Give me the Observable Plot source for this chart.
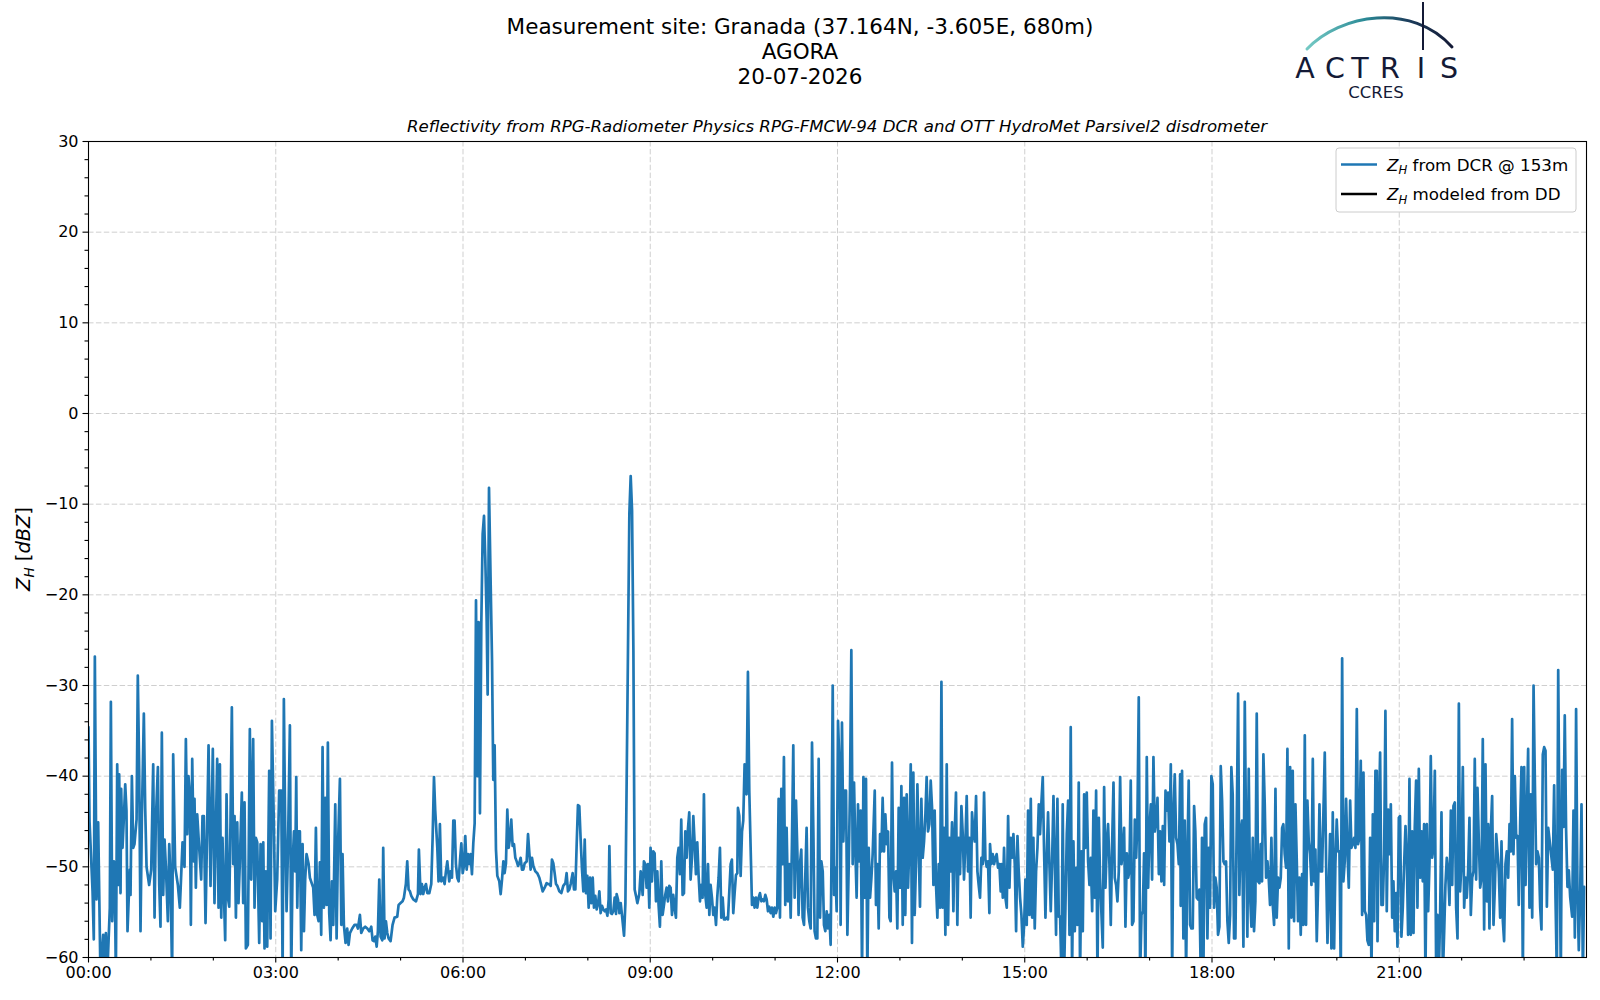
<!DOCTYPE html>
<html>
<head>
<meta charset="utf-8">
<script src="https://cdn.jsdelivr.net/npm/d3@7"></script>
<script src="https://cdn.jsdelivr.net/npm/@observablehq/plot@0.6"></script>
<style>
  html, body { margin: 0; padding: 0; background: #fff; }
  #fig { position: relative; width: 1600px; height: 1000px; background: #fff; overflow: hidden; }
  #chart { position: absolute; left: 0; top: 0; }
  #overlay { position: absolute; left: 0; top: 0; pointer-events: none; }
  text { font-family: "DejaVu Sans", sans-serif; }
</style>
</head>
<body>
<div id="fig">
  <div id="chart"></div>
  <svg id="overlay" width="1600" height="1000" viewBox="0 0 1600 1000"></svg>
</div>
<script>
// ---------------- DATA (minutes since 00:00 UTC, Z_H in dBZ) ----------------
const dateLabel = "20-07-2026";
const siteLabel = "Measurement site: Granada (37.164N, -3.605E, 680m)";
const networkLabel = "AGORA";
const subtitleLabel = "Reflectivity from RPG-Radiometer Physics RPG-FMCW-94 DCR and OTT HydroMet Parsivel2 disdrometer";
const legendLabels = ["from DCR @ 153m", "modeled from DD"];
const xTickLabels = ["00:00","03:00","06:00","09:00","12:00","15:00","18:00","21:00"];
const yTickValues = [-60,-50,-40,-30,-20,-10,0,10,20,30];

// 00:00 - 03:03
const zhDcr1 = [[0,-34.6],[1,-45],[3.9,-52.7],[5.1,-58],[6.1,-26.8],[7.7,-53.6],[9.3,-45.1],[11.5,-62],[14.1,-57.5],[15.4,-62],[16.7,-57.3],[18,-62],[20.5,-54.5],[21.5,-31.8],[22.8,-56],[24.4,-49.4],[25.3,-51.8],[26.3,-62],[27.6,-38.7],[28.8,-52],[29.5,-39.8],[30.8,-52.9],[31.4,-41.4],[32.7,-47.9],[34,-44.6],[35.3,-40.9],[36.5,-43.8],[37.5,-57.1],[39.7,-50.3],[40.4,-53.1],[41.7,-40],[43,-47.9],[44.2,-47.5],[46.2,-44.8],[47.4,-28.9],[48.7,-39.2],[50,-57.1],[51.3,-44.6],[53.2,-33.1],[54.5,-43.5],[55.8,-50],[58.3,-52],[60.3,-50.3],[62.2,-38.7],[63.5,-55.6],[64.7,-45],[66.7,-39],[68,-52],[69.2,-56.6],[70.5,-35.2],[71.8,-53.1],[73.1,-47],[74.4,-50],[76.3,-56],[77.6,-47.5],[78.8,-51.2],[80.4,-62],[81.4,-37.6],[83.3,-50],[85.9,-52],[87.8,-54.5],[90.4,-47.3],[92.3,-50],[93.6,-35.9],[94.9,-46.4],[96.1,-40],[97.4,-42],[98.4,-56.4],[99.7,-38.1],[101.3,-49.4],[101.9,-42.5],[103.2,-52.3],[104.5,-44.2],[106.4,-47.9],[108.3,-51.4],[109.6,-44.4],[110.9,-44.4],[112.5,-56.2],[115.4,-36.6],[117.3,-52.1],[119.5,-37],[121.1,-54],[123.7,-38.1],[125,-54.5],[126.3,-38.7],[127.6,-55.6],[128.8,-46.8],[130.1,-52.7],[131.4,-58.1],[132.7,-42],[134,-53.4],[135.3,-54.4],[136.5,-45],[137.8,-32.4],[139.1,-49.7],[140.4,-44.4],[141.7,-55.6],[143,-45.1],[144.2,-54],[145.5,-49.4],[147.4,-41.8],[148.7,-54],[150,-42.9],[151.3,-59],[153.2,-58.6],[155.1,-34.8],[156.4,-51.4],[158.3,-35.9],[159.6,-54.5],[160.9,-46.8],[162.2,-47.3],[164.1,-58.4],[165.4,-47.5],[167,-56],[168,-47.3],[169.2,-59],[170.5,-50.5],[171.8,-58.8],[173.7,-39.4],[175,-57.9],[176.3,-33.9],[178.2,-45.5],[179.5,-54.9],[181.4,-51.4],[183.3,-41.6]];
// 03:05 - 05:57
const zhDcr2 = [[185.3,-41.6],[186.6,-62],[187.8,-31.5],[189.1,-46],[190.4,-54.9],[191.7,-48.3],[193.6,-34.4],[194.9,-62],[196.2,-49.7],[197.5,-46.1],[198.7,-50.5],[199.7,-40.1],[200.7,-54.5],[201.9,-46.1],[203.2,-46.1],[204.5,-59.2],[205.8,-47.5],[207.1,-57.1],[208.3,-51.4],[209.6,-48.6],[211.6,-49.7],[212.8,-51.2],[216,-52.3],[217.3,-55.3],[218.6,-45.7],[219.9,-55.3],[221.2,-56],[222.4,-49.5],[223.7,-57.5],[225,-36.8],[226.3,-54.5],[227.6,-42.4],[228.9,-54.2],[230.1,-36.3],[231.4,-55.1],[232.7,-58.1],[234,-51.6],[235.3,-56.4],[237.2,-43.1],[238.5,-57.9],[239.8,-47.9],[241.7,-40.3],[243,-56.4],[244.2,-48.6],[245.5,-56.4],[247.1,-58.4],[248.7,-56.8],[250,-58.6],[251.3,-57.3],[253.5,-56.8],[255.8,-56.4],[257.7,-56.4],[259,-56.8],[260.9,-55.3],[262.2,-57.3],[264.1,-56.8],[266,-56.6],[268,-56.8],[269.9,-57.1],[271.8,-56.6],[273.1,-58.1],[274.4,-58.2],[275.7,-57.7],[277,-58.8],[278.2,-57.1],[279.5,-51.4],[280.8,-57.7],[282.4,-58.1],[283.3,-47.9],[284.6,-57.9],[285.9,-56],[287.2,-57.3],[288.5,-57.9],[290.4,-58.2],[292.3,-56.4],[294.2,-55.6],[296.8,-55.5],[298.1,-54.2],[300,-54],[301.9,-53.8],[303.2,-53.4],[305.1,-51.9],[306.4,-49.4],[307.7,-52.5],[309,-52.7],[310.3,-53.2],[312.2,-53.6],[314.8,-53.8],[316.7,-53],[317.6,-48.1],[319.2,-53],[320.5,-51.9],[321.8,-53],[323.1,-52.3],[324.4,-51.9],[325.7,-52.9],[327.6,-52.9],[329.5,-51.9],[330.8,-46.8],[332.1,-40.1],[333.3,-43.8],[335.3,-47.9],[336.5,-51.6],[337.8,-45.3],[339.1,-51.6],[341,-51.2],[342.3,-51.9],[343.6,-50.5],[344.9,-49.4],[346.8,-51.6],[348.1,-50.5],[349.4,-51.2],[350.7,-44.9],[351.9,-44.9],[353.2,-49.7],[354.5,-51.2],[355.8,-51.6],[357.1,-49.3]];
// 05:58 - 08:51 (echo event and spike)
const zhDcr3 = [[358.4,-47.4],[359.7,-50.7],[360.9,-49.9],[362.2,-46.6],[363.5,-50.3],[364.8,-48.6],[366.1,-49.7],[367.3,-48.6],[368.6,-50.8],[369.9,-47.4],[371.2,-45.2],[372.5,-20.6],[373.8,-40],[375,-23],[376.3,-44.1],[377.6,-23.2],[378.9,-13.3],[380.2,-11.3],[381.4,-15.9],[382.7,-22.5],[383.7,-31],[385,-8.2],[386.6,-18.8],[387.9,-27.2],[389.1,-40.4],[390.4,-36.6],[391.7,-48.1],[393,-51],[394.9,-51.6],[396.2,-53],[397.5,-51.4],[398.8,-49.4],[400,-50.7],[401.3,-49.6],[402.6,-43.7],[403.9,-47.9],[405.2,-46.8],[406.4,-44.8],[407.7,-47.7],[409,-47.5],[410.3,-49],[411.6,-49.4],[412.9,-49.9],[414.1,-49.6],[415.4,-49],[416.7,-50.3],[418,-50.3],[419.3,-49.6],[421.2,-49.4],[422.5,-46.4],[423.8,-48.5],[425,-50.3],[426.3,-49],[427.6,-49.9],[429.5,-50.5],[431.4,-50.7],[433.4,-51.2],[434.7,-51.8],[436.6,-52.7],[438.5,-52.3],[440.4,-51.8],[441.7,-51.9],[443,-51.9],[444.3,-52.1],[445.5,-49.2],[446.8,-49.6],[448.1,-50.7],[449.4,-51.9],[450.7,-52.1],[452.6,-52.7],[454.5,-52.9],[456.4,-52.1],[458.4,-51.8],[459.6,-50.7],[460.9,-52.7],[462.2,-52.5],[463.5,-51.9],[465.4,-50.7],[466.7,-52.5],[468,-52.5],[469.3,-47.4],[470.5,-43.2],[471.8,-43.3],[473.1,-47],[474.4,-50.3],[475.7,-52.7],[477,-47],[478.2,-52.9],[479.5,-51],[480.8,-54.5],[482.1,-51.2],[483.4,-54],[484.7,-51.2],[485.9,-54.5],[487.2,-53.2],[488.5,-54.7],[489.8,-54.1],[491.1,-52.7],[492.3,-55.1],[493.6,-54.3],[494.9,-54.7],[496.2,-54.9],[497.5,-54.7],[498.8,-55.4],[500,-53.6],[500.7,-47.7],[502,-55.1],[503.2,-55.2],[504.5,-54.9],[505.8,-53.4],[507.1,-55.2],[507.7,-53],[509,-53.6],[510.3,-55.1],[511.6,-54],[512.9,-55.4],[514.8,-57.6],[516.1,-54],[517.3,-40.8],[518.6,-26.1],[519.9,-11.1],[521.2,-6.9],[522.5,-10.7],[523.8,-26.1],[525,-52.5],[526.3,-53.2],[527.6,-54],[529.5,-53],[530.8,-50.5]];
// 08:51 - 11:43
const zhDcr4 = [[531.4,-51.2],[532.7,-53.1],[533.9,-49.4],[535.2,-49.7],[536.5,-52.3],[537.8,-49.7],[539.1,-54.5],[540.3,-47.9],[541.6,-51.6],[542.9,-48.3],[544.2,-48.5],[545.5,-53.8],[546.8,-50.5],[548,-54.2],[549.3,-56.6],[550.6,-49.4],[551.9,-55.3],[553.2,-54.2],[554.4,-53.1],[555.7,-52.3],[557,-53.8],[558.3,-52.1],[559.6,-52.3],[560.9,-55.3],[562.1,-53.1],[563.4,-54.5],[564.7,-55.6],[566,-49],[567.3,-47.9],[568.6,-50.8],[569.8,-44.8],[571.1,-53.1],[572.4,-52.9],[573.7,-46.1],[575,-49],[576.2,-45.9],[577.5,-44],[578.8,-51.4],[580.1,-49],[581.4,-44.4],[582.7,-47.5],[583.9,-50.8],[585.2,-47.3],[586.5,-51],[587.8,-53.8],[589.1,-52],[590.3,-53.4],[591.6,-42],[592.9,-53.1],[594.2,-54.5],[595.5,-49.7],[596.8,-55.3],[598,-52],[599.3,-53.4],[600.6,-55.3],[601.9,-54.5],[603.2,-56.4],[604.4,-53.4],[605.7,-51.2],[607,-47.9],[608.3,-55.6],[609.6,-53.4],[610.9,-55.8],[612.1,-55.8],[613.4,-55.6],[614.7,-55.8],[616,-52.7],[617.3,-49.7],[618.5,-49.2],[619.8,-55.1],[621.1,-52.9],[622.4,-50.9],[623.7,-50.7],[624.3,-43.5],[625.6,-44.4],[626.9,-51],[628.2,-46.1],[629.4,-44.9],[630.7,-38.7],[632,-41.8],[632.6,-42],[633.9,-28.5],[635.2,-41.6],[636.5,-47.9],[637.8,-54.2],[639.1,-53.4],[640.3,-54.5],[641.6,-53.4],[642.9,-54.5],[644.2,-53.4],[645.5,-52.9],[646.8,-53.8],[648,-53.6],[649.3,-53.8],[650.6,-53.1],[651.9,-53.6],[653.2,-54.9],[654.4,-54.4],[655.7,-55.1],[657,-54.5],[658.3,-55.5],[659.6,-54.5],[660.9,-55.1],[662.1,-54.5],[663.4,-42.5],[664.7,-55.6],[666,-41.4],[667.3,-49.7],[668.5,-37.9],[669.8,-54.2],[671.1,-45.7],[672.4,-53.8],[673.7,-49.7],[675,-55.6],[676.2,-47.5],[677.5,-36.6],[678.8,-53.4],[680.1,-42.7],[681.4,-48.3],[682.6,-55.3],[683.9,-49.7],[685.2,-48.1],[686.5,-55.6],[687.8,-56.4],[689.1,-50.8],[690.3,-45.7],[691.6,-54.5],[692.9,-56],[694.2,-56.8],[695.5,-36.3],[696.8,-46.1],[698,-57.1],[699.3,-57.9],[700.6,-57.9],[701.9,-38.1],[703.2,-55.6]];
// 11:44 - 14:37
const zhDcr5 = [[704.5,-49.4],[705.8,-50.5],[707,-56.4],[708.3,-57.1],[709.6,-54.9],[710.9,-56.8],[712.2,-55.3],[713.4,-58.6],[714.1,-50.5],[715.4,-30],[716.7,-53.1],[717.9,-50.1],[719.2,-54.9],[720.5,-33.9],[722.4,-40.5],[723,-56.4],[724.3,-34.1],[725.6,-47.2],[726.9,-41.6],[728.2,-41.6],[729.5,-57.5],[730.8,-49.7],[732,-41.6],[733.3,-26.1],[734.6,-49.7],[735.9,-40.7],[737.2,-48.3],[738.4,-53.4],[739.7,-43.1],[741,-49.4],[742.3,-43.8],[743.6,-62],[744.9,-40.1],[746.1,-53.4],[747.4,-40.3],[748.7,-62],[750,-47.9],[751.3,-53.4],[752.6,-51.2],[753.8,-48.6],[755.8,-41.6],[757,-54.2],[758.3,-49.7],[759.6,-56.8],[760.9,-46.4],[762.2,-48.3],[763.4,-42.4],[764.7,-48.3],[766,-44.2],[767.3,-47.5],[768.6,-46.1],[769.9,-55.6],[771.1,-56],[772.4,-38.5],[773.7,-50.8],[775,-52.7],[776.3,-50.5],[777.5,-56.8],[778.8,-43.5],[780.1,-52.3],[781.4,-41.1],[782.7,-56.4],[784,-42.4],[785.2,-55.3],[786.5,-42],[787.8,-52.3],[789.1,-47.5],[790.4,-38.7],[791.6,-58.4],[792.9,-39.6],[794.2,-55.3],[795.5,-49.4],[796.8,-40.9],[798.1,-48.3],[799.3,-54.4],[800.6,-42.5],[801.9,-49],[803.2,-47.2],[804.5,-44.2],[805.7,-40.1],[807,-46.1],[808.3,-45.3],[809.6,-40.5],[810.9,-43.5],[812.2,-52],[813.4,-43.8],[814.7,-52],[816,-55.6],[817.3,-49.7],[818.6,-54.5],[819.9,-29.6],[821.1,-54.5],[822.4,-45.7],[823.7,-57.5],[825,-38.7],[826.3,-56.4],[827.5,-46.8],[828.8,-50.5],[830.1,-45.1],[831.4,-54.9],[832.7,-46.1],[833.9,-41.8],[835.2,-56.4],[836.5,-46.8],[837.8,-50.8],[839.1,-43.3],[840.4,-46.4],[841.6,-51.4],[842.9,-47.5],[844.2,-42.2],[845.5,-50.5],[846.8,-46.8],[848,-55.6],[849.3,-44],[850.6,-46.1],[851.9,-47.2],[853.2,-42.2],[854.5,-50.5],[855.7,-52],[857,-53.4],[858.3,-49],[859.6,-49.7],[860.9,-41.8],[862.2,-49.2],[863.4,-50],[864.7,-49.4],[866,-55.1],[866.6,-47.5],[867.9,-49.7],[869.2,-48.6],[870.5,-49.7],[871.8,-49],[873,-48.6],[874.3,-50.1],[875.6,-49.7],[876.9,-52.7]];
// 14:37 - 17:29
const zhDcr6 = [[877.6,-49.7],[878.9,-53.4],[880.1,-47.9],[881.4,-53.4],[882.7,-54.5],[884,-44.4],[885.3,-52.3],[886.5,-46.8],[887.8,-49],[889.1,-46.4],[890.4,-49.7],[891.7,-57.1],[893,-46.6],[894.2,-50.5],[895.5,-53.4],[896.8,-55.3],[898.1,-58.8],[899.4,-56.4],[900.6,-51.4],[901.9,-56.4],[903.2,-43.8],[904.5,-55.3],[905.8,-42.5],[907.1,-55.6],[908.3,-46.8],[909.6,-56.8],[910.9,-50.5],[912.2,-47.9],[913.5,-43.1],[914.7,-46.4],[916,-42.9],[917.3,-40.1],[918.6,-48.3],[919.9,-55.6],[921.2,-48.6],[922.4,-44],[923.7,-49.7],[925,-54.9],[926.3,-49.4],[927.6,-42.2],[928.9,-49.7],[930.1,-57.5],[931.4,-42.5],[932.7,-55.5],[934,-55.5],[935.3,-62],[936.5,-43.1],[937.8,-62],[939.1,-54.5],[940.4,-46.4],[941.7,-42.7],[943,-57.5],[944.2,-34.6],[945.5,-62],[946.8,-47.2],[948.1,-57.1],[949.4,-50.1],[950.7,-56.4],[951.9,-40.7],[953.2,-62],[954.5,-48.3],[955.8,-57.1],[957.1,-42],[958.3,-47.9],[959.6,-41.8],[960.9,-49.4],[962.2,-52],[963.5,-49],[964.8,-54.9],[966,-43.8],[967.3,-53.4],[968.6,-41.6],[969.9,-62],[971.2,-44.6],[972.4,-51.2],[973.7,-55.1],[975,-58.9],[976.3,-41.2],[977.6,-52.3],[978.9,-47.2],[980.1,-45.3],[981.4,-49.7],[982.7,-56.4],[984,-47.5],[985.3,-40.7],[986.5,-51.2],[987.8,-52],[989.1,-53.8],[990.4,-50.5],[991.7,-40.1],[993,-49.7],[994.2,-48.3],[995.5,-45.7],[996.8,-56.6],[998.1,-48.5],[999.4,-51.2],[1000.6,-50.5],[1001.9,-40.5],[1003.2,-56.4],[1004.5,-56],[1005.8,-44.8],[1007.1,-49],[1008.3,-44.9],[1009.6,-31.3],[1010.9,-62],[1012.2,-55.3],[1013.5,-54.9],[1014.7,-48.5],[1016,-62],[1017.3,-37.9],[1018.6,-52.3],[1019.9,-45.7],[1021.2,-43.1],[1022.4,-51.4],[1023.7,-37.9],[1025,-46.1],[1026.3,-44.9],[1027.6,-42.4],[1028.9,-50.8],[1030.1,-46.1],[1031.4,-51.6],[1032.7,-45.5],[1034,-52],[1035.3,-41.6],[1036.5,-43.8],[1037.8,-41.8],[1039.1,-47.2],[1040.4,-38.7],[1041.7,-62],[1043,-43.8],[1044.2,-39.8],[1045.5,-46.8],[1046.8,-47.5],[1048.1,-49.7],[1049.4,-39.8]];
// 17:30 - 20:23
const zhDcr7 = [[1049.9,-54.3],[1051.2,-39.4],[1052.5,-57.9],[1053.8,-44.9],[1055.1,-62],[1056.3,-49],[1057.6,-40.5],[1058.9,-56.4],[1060.2,-56.8],[1061.5,-56.8],[1062.8,-43.3],[1064,-46.1],[1065.3,-53.4],[1066.6,-53.6],[1067.9,-52.5],[1069.2,-62],[1070.4,-46.8],[1071.7,-62],[1073,-45.3],[1074.3,-44.6],[1075.6,-57.9],[1076.9,-47.9],[1078.1,-54.5],[1079.4,-40],[1080.7,-40.9],[1082,-54.5],[1083.3,-51.2],[1084.5,-52.3],[1085.8,-57.5],[1087.1,-56.6],[1088.4,-38.9],[1089.7,-42.7],[1091,-49.4],[1092.2,-49.7],[1093.5,-49.4],[1094.8,-56],[1096.1,-58.4],[1097.4,-55.3],[1098.6,-39],[1099.9,-42],[1101.2,-57.9],[1102.5,-57.9],[1103.8,-44.9],[1105.1,-30.9],[1106.3,-53.1],[1107.6,-46.1],[1108.9,-44.9],[1110.2,-58.8],[1111.5,-31.8],[1112.7,-45.7],[1114,-57.7],[1115.3,-39.2],[1116.6,-53.1],[1117.9,-56.6],[1119.2,-46.8],[1120.4,-57.1],[1121.7,-53.8],[1123,-33.1],[1124.3,-51.6],[1125.6,-51.8],[1126.9,-47.5],[1128.1,-51.6],[1129.4,-37.6],[1130.7,-43.1],[1132,-51.2],[1133.3,-49.4],[1134.5,-51.2],[1135.8,-54.2],[1137.1,-46.8],[1138.4,-54.2],[1139.7,-56.4],[1141,-41.4],[1142.2,-55.6],[1143.5,-51.2],[1144.8,-52.3],[1146.1,-51.2],[1147.4,-45.7],[1148.6,-45.3],[1149.9,-48.6],[1151.2,-50.1],[1152.5,-37],[1153.8,-59],[1155.1,-39],[1156.3,-55.6],[1157.6,-39.4],[1158.9,-56],[1160.2,-43.1],[1161.5,-49.4],[1162.7,-56],[1164,-51.2],[1165.3,-57.5],[1166.6,-50.8],[1167.9,-56.4],[1169.2,-35.5],[1170.4,-56.4],[1171.7,-42.7],[1173,-47.2],[1174.3,-48.6],[1175.6,-52],[1176.9,-38.1],[1178.1,-51.6],[1179.4,-48.1],[1180.7,-58.2],[1182,-52],[1183.3,-43.1],[1184.5,-50.5],[1185.8,-50.5],[1187.1,-44],[1188.4,-37.4],[1189.7,-49.7],[1191,-58.4],[1192.2,-52.7],[1193.5,-46.4],[1194.8,-59],[1196.1,-44],[1197.4,-59],[1198.6,-49.7],[1199.9,-44.8],[1201.2,-48.3],[1202.5,-48.3],[1203.8,-62],[1205.1,-27],[1206.3,-51.6],[1207.6,-49.4],[1208.9,-42.5],[1210.2,-48.3],[1211.5,-52.3],[1212.8,-42.7],[1214,-47.9],[1215.3,-47.5],[1216.6,-46.8],[1217.9,-47.9],[1219.2,-32.6],[1220.4,-47.5],[1221.7,-46.8]];
// 20:23 - 23:36
const zhDcr8 = [[1223,-38.3],[1224.3,-55.3],[1225.6,-39.6],[1226.9,-54.9],[1228.2,-55.3],[1229.4,-58.1],[1230.7,-58.6],[1232,-46.8],[1233.3,-62],[1234.6,-44.2],[1235.9,-56],[1237.1,-39.4],[1238.4,-39.4],[1239.1,-58.2],[1240.3,-45.3],[1241.6,-37.4],[1242.9,-54.2],[1244.2,-54.2],[1245.5,-48.6],[1246.7,-32.8],[1248,-54.9],[1249.3,-43.7],[1250.6,-48.6],[1251.9,-43.1],[1253.2,-55.6],[1254.4,-51.6],[1255.7,-57.1],[1257,-52.9],[1258.3,-58.8],[1259.6,-44.6],[1260.8,-44.4],[1262.1,-57.7],[1263.4,-54.5],[1264.7,-49.7],[1266,-45.5],[1267.3,-49.4],[1268.5,-57.5],[1269.8,-40.3],[1271.1,-57.5],[1272.4,-46.1],[1273.7,-57.3],[1274.9,-45.7],[1276.2,-40.5],[1277.5,-54.5],[1278.8,-39.2],[1280.1,-51.2],[1281.4,-46.1],[1282.6,-51.6],[1283.9,-45.3],[1285.2,-62],[1286.5,-45.3],[1287.8,-54.9],[1289.1,-49.4],[1290.3,-37.8],[1291.6,-49],[1292.9,-47.9],[1294.2,-39.4],[1295.5,-62],[1296.7,-55.3],[1298,-62],[1299.3,-55.3],[1300.6,-44],[1301.9,-62],[1303.2,-57.1],[1304.4,-52],[1305.7,-49],[1307,-50.5],[1308.3,-54.2],[1309.6,-43.8],[1310.9,-52],[1312.1,-43.3],[1313.4,-42.9],[1314.7,-54.5],[1316,-57.9],[1317.3,-32],[1318.5,-52.7],[1319.8,-49.7],[1321.1,-39],[1322.4,-54.5],[1323.7,-51.2],[1324.9,-53.4],[1326.2,-50.5],[1327.5,-44.6],[1328.8,-55.3],[1330.1,-51.2],[1331.4,-50.5],[1332.6,-38.1],[1333.9,-51.4],[1335.2,-41.3],[1336.5,-47.2],[1337.8,-52.3],[1339.1,-51.2],[1340.3,-35.9],[1341.6,-56.9],[1342.9,-38.7],[1344.2,-53.8],[1345.5,-45.3],[1346.7,-56.8],[1348,-46.1],[1349.3,-42.2],[1350.6,-56.4],[1351.9,-52.3],[1353.2,-46.4],[1354.4,-48.3],[1355.7,-50.5],[1357,-55.6],[1358.3,-47.2],[1359.6,-56],[1360.8,-58.2],[1362.1,-49.7],[1363.4,-48.3],[1364.7,-51.2],[1366,-45.3],[1367.3,-48.3],[1368.5,-33.7],[1369.8,-48.6],[1371.1,-40],[1372.4,-46.8],[1373.7,-46.6],[1374.9,-54.2],[1376.2,-45.3],[1377.5,-39],[1378.8,-62],[1380.1,-39],[1381.4,-52],[1382.6,-44.6],[1383.9,-37],[1385.2,-54.5],[1386.5,-42],[1387.8,-55.6],[1389.1,-30],[1390.3,-40.1],[1391.6,-49.7],[1392.9,-48.3],[1394.2,-49],[1395.5,-54.5],[1396.7,-56.9],[1398,-37.6],[1399.3,-36.8],[1400.6,-37.2],[1401.9,-54.4],[1403.2,-45.7],[1407.6,-50.3],[1408.9,-41],[1410.2,-53.4],[1411.5,-62],[1412.8,-28.3],[1414,-45.5]];
// 23:35 - 23:58
const zhDcr9 = [[1415.3,-62],[1416.6,-39.3],[1417.9,-45.6],[1419.1,-33.3],[1420.4,-46],[1421.7,-52.2],[1423,-50.4],[1424.3,-53.3],[1426.2,-55.5],[1427.5,-43.8],[1428.8,-57.8],[1430,-32.6],[1431.3,-52.6],[1432.6,-59.2],[1433.9,-53],[1435.2,-43.1],[1436.5,-62],[1437.7,-52.2]];
// Z_H modeled from the disdrometer: no values on this day
const zhDD = [];

// ---------------- CHART ----------------
const T0 = Date.UTC(2026, 6, 20);
const toDate = m => new Date(T0 + m * 60000);
const dcr = [zhDcr1, zhDcr2, zhDcr3, zhDcr4, zhDcr5, zhDcr6, zhDcr7, zhDcr8, zhDcr9]
  .flat().map(([m, z]) => ({t: toDate(m), z}));
const dd = zhDD.map(([m, z]) => ({t: toDate(m), z}));

const xMajor = xTickLabels.map(s => toDate(+s.slice(0, 2) * 60));
const xMinor = d3.range(0, 24).filter(h => h % 3 !== 0).map(h => toDate(h * 60));
const yMinor = d3.range(-60, 31, 2).filter(v => v % 10 !== 0);
const gridStyle = {stroke: "#cfcfcf", strokeOpacity: 1, strokeWidth: 1, strokeDasharray: "5.5,2.4"};

const chart = Plot.plot({
  width: 1600, height: 1000,
  marginLeft: 88, marginRight: 14, marginTop: 141, marginBottom: 43,
  style: {fontFamily: "'DejaVu Sans', sans-serif", fontSize: "16px", background: "white", color: "black", overflow: "visible"},
  x: {type: "utc", domain: [toDate(0), toDate(1440)], label: null},
  y: {domain: [-60, 30], label: null},
  marks: [
    Plot.gridX(xMajor, gridStyle),
    Plot.gridY(yTickValues, gridStyle),
    Plot.line(dd, {x: "t", y: "z", stroke: "black", strokeWidth: 2.5, clip: true}),
    Plot.line(dcr, {x: "t", y: "z", stroke: "#1f77b4", strokeWidth: 2.7, strokeLinejoin: "round", clip: true}),
    Plot.axisX(xMinor, {tickSize: 3.5, tickFormat: () => "", strokeWidth: 1.1, label: null}),
    Plot.axisX(xMajor, {tickSize: 5.5, tickPadding: 4, tickFormat: (d, i) => xTickLabels[i], fontSize: 16, strokeWidth: 1.1, label: null}),
    Plot.axisY(yMinor, {tickSize: 3.5, tickFormat: () => "", strokeWidth: 1.1, label: null}),
    Plot.axisY(yTickValues, {tickSize: 5.5, tickPadding: 4.5, tickFormat: d3.format("d"), fontSize: 16, strokeWidth: 1.1, label: null}),
    Plot.frame({stroke: "black", strokeWidth: 1.1})
  ]
});
document.getElementById("chart").appendChild(chart);

// ---------------- TEXT, LEGEND, LOGO ----------------
const ov = d3.select("#overlay");
const navy = "#141a36";

const titleLines = [siteLabel, networkLabel, dateLabel];
titleLines.forEach((s, i) => {
  ov.append("text").attr("x", 800).attr("y", 34 + i * 25.2)
    .attr("text-anchor", "middle").attr("font-size", 21.5).attr("fill", "black").text(s);
});
ov.append("text").attr("x", 837).attr("y", 132).attr("text-anchor", "middle")
  .attr("font-size", 16.6).attr("font-style", "italic").attr("fill", "black").text(subtitleLabel);

// y label  Z_H [dBZ]
const yl = ov.append("text").attr("transform", "translate(30,549) rotate(-90)")
  .attr("text-anchor", "middle").attr("font-size", 19.4).attr("fill", "black");
yl.append("tspan").attr("font-style", "italic").text("Z");
yl.append("tspan").attr("font-style", "italic").attr("font-size", 13.6).attr("dy", 4).text("H");
yl.append("tspan").attr("dy", -4).text(" [");
yl.append("tspan").attr("font-style", "italic").text("dBZ");
yl.append("tspan").text("]");

// legend
const lg = ov.append("g");
lg.append("rect").attr("x", 1336).attr("y", 148).attr("width", 240).attr("height", 64).attr("rx", 3)
  .attr("fill", "white").attr("fill-opacity", 0.8).attr("stroke", "#cccccc").attr("stroke-width", 1);
const legendColors = ["#1f77b4", "black"];
legendLabels.forEach((lab, i) => {
  const cy = 164.5 + i * 29.5;
  lg.append("line").attr("x1", 1341).attr("x2", 1377).attr("y1", cy).attr("y2", cy)
    .attr("stroke", legendColors[i]).attr("stroke-width", 2.7);
  const t = lg.append("text").attr("x", 1387).attr("y", cy + 6).attr("font-size", 16.7).attr("fill", "black");
  t.append("tspan").attr("font-style", "italic").text("Z");
  t.append("tspan").attr("font-style", "italic").attr("font-size", 11.7).attr("dy", 3.5).text("H");
  t.append("tspan").attr("dy", -3.5).text(" " + lab);
});

// ACTRIS CCRES logo
const defs = ov.append("defs");
const grad = defs.append("linearGradient").attr("id", "arcGrad").attr("x1", "0%").attr("x2", "100%");
grad.append("stop").attr("offset", "0%").attr("stop-color", "#74c9c4");
grad.append("stop").attr("offset", "40%").attr("stop-color", "#2b8a96");
grad.append("stop").attr("offset", "70%").attr("stop-color", "#1c3d5c");
grad.append("stop").attr("offset", "100%").attr("stop-color", navy);
ov.append("path").attr("d", "M1307,49 C1340,14 1412,2 1452,47")
  .attr("fill", "none").attr("stroke", "url(#arcGrad)").attr("stroke-width", 3).attr("stroke-linecap", "round");
ov.append("line").attr("x1", 1423).attr("x2", 1423).attr("y1", 2).attr("y2", 50)
  .attr("stroke", navy).attr("stroke-width", 2);
const letters = [["A", 1305], ["C", 1335], ["T", 1360], ["R", 1390], ["I", 1421], ["S", 1449]];
letters.forEach(([c, x]) => {
  ov.append("text").attr("x", x).attr("y", 78).attr("text-anchor", "middle")
    .attr("font-family", "Lato, 'Open Sans', sans-serif").attr("font-size", 28.5).attr("font-weight", 500).attr("fill", navy).text(c);
});
ov.append("text").attr("x", 1376).attr("y", 98).attr("text-anchor", "middle")
  .attr("font-family", "Lato, 'Open Sans', sans-serif").attr("font-size", 16.5).attr("fill", navy).text("CCRES");
</script>
</body>
</html>
